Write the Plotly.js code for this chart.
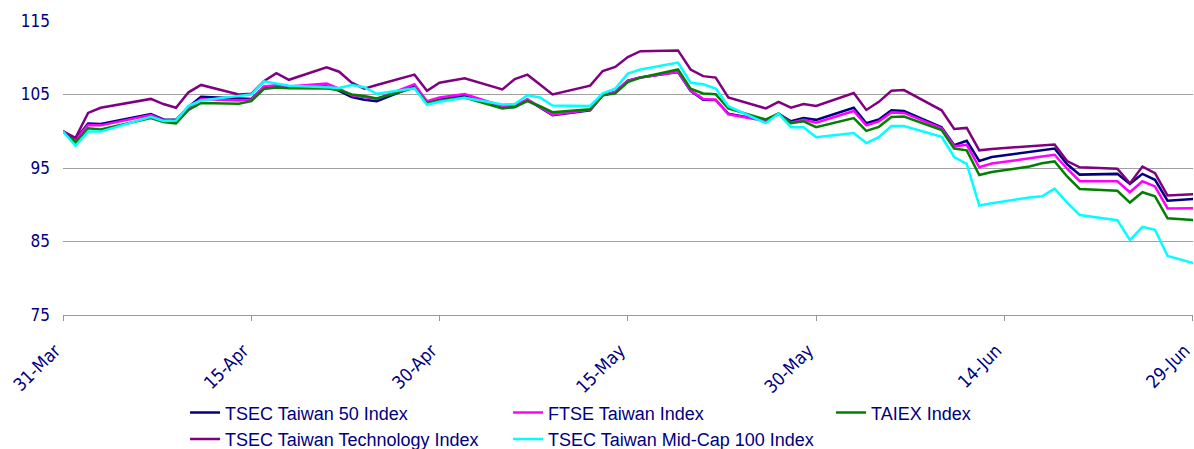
<!DOCTYPE html>
<html>
<head>
<meta charset="utf-8">
<script src="https://cdn.plot.ly/plotly-3.0.1.min.js"></script>
<style>html,body{margin:0;padding:0;background:#fff;}#chart{width:1194px;height:449px;}</style>
</head>
<body>
<div id="chart"></div>
<script>
const dates = [
  '2008-03-31',
  '2008-04-01','2008-04-02','2008-04-03','2008-04-07','2008-04-08','2008-04-09','2008-04-10','2008-04-11',
  '2008-04-14','2008-04-15','2008-04-16','2008-04-17','2008-04-18','2008-04-21','2008-04-22','2008-04-23',
  '2008-04-24','2008-04-25','2008-04-28','2008-04-29','2008-04-30',
  '2008-05-02','2008-05-05','2008-05-06','2008-05-07','2008-05-08','2008-05-09','2008-05-12','2008-05-13',
  '2008-05-14','2008-05-15','2008-05-16','2008-05-19','2008-05-20','2008-05-21','2008-05-22','2008-05-23',
  '2008-05-26','2008-05-27','2008-05-28','2008-05-29','2008-05-30',
  '2008-06-02','2008-06-03','2008-06-04','2008-06-05','2008-06-06','2008-06-09','2008-06-10','2008-06-11',
  '2008-06-12','2008-06-13','2008-06-16','2008-06-17','2008-06-18','2008-06-19','2008-06-20','2008-06-23',
  '2008-06-24','2008-06-25','2008-06-26','2008-06-27','2008-06-30'
];

const seriesNames = [
  'TSEC Taiwan 50 Index',
  'FTSE Taiwan Index',
  'TAIEX Index',
  'TSEC Taiwan Technology Index',
  'TSEC Taiwan Mid-Cap 100 Index'
];

const taiwan50 = [
  100,
  98.9,101.05,101.0,102.35,101.6,101.55,103.3,104.7,
  104.4,104.4,106.0,106.2,106.0,106.1,105.5,104.65,
  104.3,104.1,106.1,103.85,104.3,
  104.85,103.25,103.3,104.3,103.25,102.2,102.85,104.9,
  105.35,106.9,107.3,108.05,105.5,104.3,104.25,102.4,
  101.45,102.4,101.35,101.8,101.55,
  103.2,101.1,101.6,102.85,102.75,100.55,98.1,98.7,
  95.95,96.5,97.25,97.45,97.65,95.5,94.1,94.2,
  92.85,94.2,93.4,90.55,90.9
];

const ftseTaiwan = [
  100,
  98.8,100.85,100.8,102.2,101.5,101.35,103.2,104.4,
  104.2,104.3,106.1,106.25,106.1,106.5,105.8,104.9,
  104.6,104.4,106.4,104.1,104.6,
  105.05,103.4,103.45,104.35,103.3,102.25,102.9,104.9,
  105.35,106.85,107.3,108.1,105.55,104.4,104.3,102.3,
  101.4,102.4,101.15,101.55,101.15,
  102.75,100.8,101.35,102.55,102.5,100.4,97.95,98.15,
  95.1,95.6,96.25,96.55,96.8,94.9,93.2,93.2,
  91.7,93.2,92.5,89.5,89.55
];

const taiex = [
  100,
  98.5,100.4,100.25,101.8,101.25,101.05,102.9,103.85,
  103.75,104.1,105.75,105.95,105.85,105.8,105.6,105.0,
  104.8,104.45,105.9,103.8,104.2,
  104.6,103.1,103.3,104.1,103.4,102.6,103.0,104.9,
  105.15,106.7,107.3,108.4,105.8,105.15,105.05,103.1,
  101.6,102.4,101.1,101.35,100.55,
  101.8,100.05,100.6,101.95,102.0,100.15,97.65,97.4,
  94.05,94.45,95.2,95.65,95.9,93.85,92.15,91.9,
  90.3,91.7,91.15,88.15,87.8
];

const technology = [
  100,
  99.1,102.5,103.2,104.4,103.7,103.2,105.3,106.3,
  105.0,105.1,106.8,107.9,107.0,108.7,108.1,106.6,
  105.8,106.3,107.7,105.5,106.6,
  107.2,105.7,107.1,107.7,106.35,105.0,106.2,108.2,
  108.75,110.1,110.9,111.0,108.4,107.5,107.3,104.6,
  103.1,104.0,103.2,103.7,103.45,
  105.2,102.9,104.0,105.5,105.6,102.85,100.3,100.45,
  97.4,97.6,97.95,98.05,98.2,95.95,95.1,94.9,
  92.9,95.2,94.3,91.25,91.5
];

const midCap100 = [
  100,
  98.0,99.95,99.95,101.95,101.4,101.45,103.45,104.2,
  104.75,105.0,106.8,106.5,106.2,106.0,105.9,106.3,
  106.0,105.1,105.85,103.6,104.0,
  104.55,103.65,103.7,104.9,104.6,103.5,103.45,105.15,
  105.8,107.85,108.4,109.35,106.6,106.4,105.8,103.4,
  101.1,102.4,100.55,100.55,99.2,
  99.75,98.4,99.2,100.7,100.7,99.25,96.5,95.55,
  89.9,90.2,91.0,91.15,92.2,90.3,88.6,87.9,
  85.2,87.0,86.6,83.05,81.6
];

const seriesValues = [taiwan50, ftseTaiwan, taiex, technology, midCap100];
const seriesColors = ['#000080', '#FF00FF', '#008000', '#800080', '#00FFFF'];

const xStart = '2008-03-31';
const xEnd = '2008-06-29 00:40';
const yTicks = [75, 85, 95, 105, 115];

const traces = seriesNames.map((name, i) => ({
  type: 'scatter',
  mode: 'lines',
  name: name,
  x: dates,
  y: seriesValues[i],
  line: {color: seriesColors[i], width: 2.5},
  hoverinfo: 'skip'
}));

const fontFamily = '"DejaVu Sans Condensed", "DejaVu Sans", sans-serif';

const layout = {
  width: 1194,
  height: 449,
  paper_bgcolor: '#ffffff',
  plot_bgcolor: '#ffffff',
  margin: {l: 63, r: 1, t: 21, b: 134, autoexpand: false},
  showlegend: true,
  xaxis: {
    type: 'date',
    range: [xStart, xEnd],
    tick0: xStart,
    dtick: 15 * 86400000,
    tickformat: '%d-%b',
    tickangle: -45,
    tickfont: {family: fontFamily, size: 18, color: '#000080'},
    ticklabelstandoff: 12,
    ticklabelshift: -8,
    showgrid: false,
    zeroline: false,
    showline: true,
    linecolor: '#999999',
    linewidth: 1,
    ticks: 'outside',
    ticklen: 5,
    tickcolor: '#999999',
    automargin: false,
    fixedrange: true
  },
  yaxis: {
    range: [75, 115],
    tickvals: yTicks,
    tickfont: {family: fontFamily, size: 17, color: '#000080'},
    showgrid: true,
    gridcolor: '#a0a0a0',
    gridwidth: 1,
    zeroline: false,
    showline: false,
    ticks: '',
    ticklabelstandoff: 12,
    automargin: false,
    fixedrange: true
  },
  legend: {
    orientation: 'h',
    x: 0.108,
    xanchor: 'left',
    y: -0.27,
    yanchor: 'top',
    entrywidth: 278,
    entrywidthmode: 'pixels',
    font: {family: '"Liberation Sans", Arial, sans-serif', size: 18, color: '#000080'},
    bgcolor: 'rgba(0,0,0,0)',
    tracegroupgap: 0
  }
};

Plotly.newPlot('chart', traces, layout, {displayModeBar: false, staticPlot: true});
</script>
</body>
</html>
